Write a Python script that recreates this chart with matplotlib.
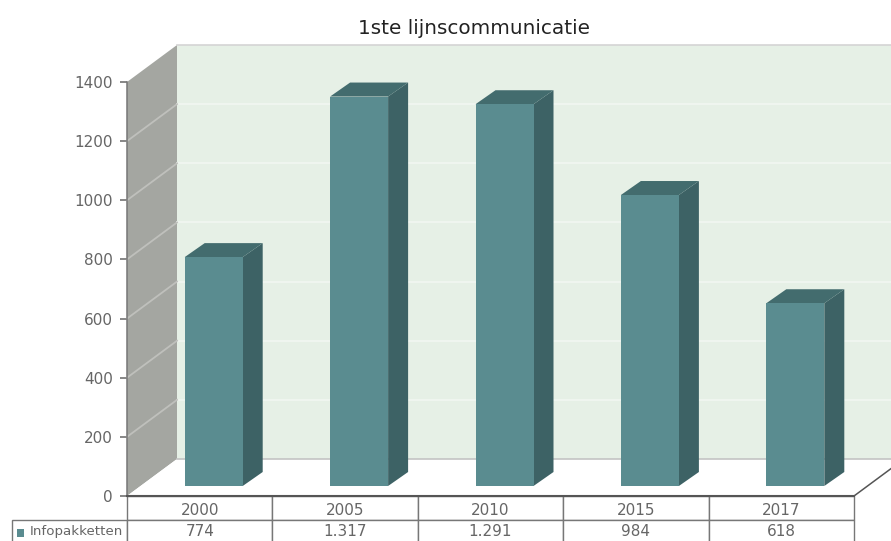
import matplotlib
matplotlib.use("Agg")
import matplotlib.pyplot as plt
from matplotlib.patches import Polygon, Rectangle

OUT = "out.png"
W, H = 891, 541

years  = ["2000", "2005", "2010", "2015", "2017"]
values = [774, 1317, 1291, 984, 618]
value_labels = ["774", "1.317", "1.291", "984", "618"]
yticks = [0, 200, 400, 600, 800, 1000, 1200, 1400]
series_name = "Infopakketten"
title = "1ste lijnscommunicatie"

COL_WALL  = "#E6F0E6"
COL_SIDE  = "#A4A6A1"
COL_FRONT = "#5A8C90"
COL_RIGHT = "#3D6265"
COL_TOP   = "#436C6E"
COL_TEXT  = "#666666"

# front plane of the fake 3d box, in pixels
X0, X1 = 127, 854
Y_TOP, Y_BOT = 82, 496

fig = plt.figure(figsize=(W / 100, H / 100), dpi=100)
ax = fig.add_axes([X0 / W, 1 - Y_BOT / H, (X1 - X0) / W, (Y_BOT - Y_TOP) / H])
ax.set_xlim(0, len(years))
ax.set_ylim(0, 1400)

ux = (X1 - X0) / len(years)          # pixels per category
uy = (Y_BOT - Y_TOP) / 1400          # pixels per value unit
DX, DY = 50 / ux, 37 / uy            # box depth in data units
BX, BY = 20 / ux, 14 / uy            # bar depth
OX, OY = 14 / ux, 10 / uy            # bar offset from the front plane
BAR_W = 58 / ux


def poly(pts, color, z=1):
    ax.add_patch(Polygon(pts, closed=True, facecolor=color, edgecolor="none",
                         clip_on=False, zorder=z))


n = len(years)
# back wall, side wall, floor
poly([(DX, DY), (n + DX, DY), (n + DX, 1400 + DY), (DX, 1400 + DY)], COL_WALL)
poly([(0, 0), (DX, DY), (DX, 1400 + DY), (0, 1400)], COL_SIDE)
poly([(0, 0), (n, 0), (n + DX, DY), (DX, DY)], "white")

for t in yticks[1:-1]:
    ax.plot([DX, n + DX], [t + DY, t + DY], color="#F1F6F1", lw=1.3, zorder=2, clip_on=False)
    ax.plot([0, DX], [t, t + DY], color="#BFC0BC", lw=1.3, zorder=2, clip_on=False)

# box outline
ax.plot([DX, n + DX], [DY, DY], color="#C4C4C4", lw=1.2, zorder=2, clip_on=False)
ax.plot([DX, n + DX], [1400 + DY, 1400 + DY], color="#D4D4D4", lw=1.2, zorder=2, clip_on=False)
ax.plot([n, n + DX], [0, DY], color="#555555", lw=1.1, zorder=2, clip_on=False)

# bars
for i, v in enumerate(values):
    xl = i + 0.5 - BAR_W / 2 + OX
    xr = xl + BAR_W
    yb = OY
    yt = OY + v
    poly([(xr, yb), (xr + BX, yb + BY), (xr + BX, yt + BY), (xr, yt)], COL_RIGHT, z=3)
    poly([(xl, yt), (xr, yt), (xr + BX, yt + BY), (xl + BX, yt + BY)], COL_TOP, z=3)
    poly([(xl, yb), (xr, yb), (xr, yt), (xl, yt)], COL_FRONT, z=4)

ax.set_yticks(yticks)
ax.set_xticks([])
ax.tick_params(axis="y", labelsize=11, labelcolor=COL_TEXT, color="#666666", length=5, width=1.1, pad=5)
ax.patch.set_visible(False)
for side in ["top", "right", "bottom"]:
    ax.spines[side].set_visible(False)
ax.spines["left"].set_color("#777777")
ax.spines["left"].set_linewidth(1.1)
ax.axhline(0, color="#555555", lw=1.5, zorder=5, clip_on=False)

fig.text(474 / W, 1 - 29 / H, title, ha="center", va="center", fontsize=14.4, color="#222222")

# data table under the axis, header text is placed by hand a little lower in its row
LABEL_L = 12
ROW_H = 24
tb_h = 2 * ROW_H
tbl = ax.table(cellText=[[""] * n, value_labels], cellLoc="center",
               colWidths=[ux / (X1 - X0)] * n,
               bbox=[0, -tb_h / (Y_BOT - Y_TOP), 1, tb_h / (Y_BOT - Y_TOP)])
tbl.auto_set_font_size(False)
tbl.set_fontsize(11)
label_cell = tbl.add_cell(1, -1, (X0 - LABEL_L) / (X1 - X0), tbl[(1, 0)].get_height(),
                          text=series_name, loc="left")
label_cell.PAD = (30 - LABEL_L) / (X0 - LABEL_L)
label_cell.set_text_props(fontsize=9.6, color=COL_TEXT)
for key, cell in tbl.get_celld().items():
    cell.set_edgecolor("#777777")
    cell.set_linewidth(1.0)
    cell.get_text().set_color(COL_TEXT)

for i, year in enumerate(years):
    ax.annotate(year, (i + 0.5, 0), xytext=(0, -10.5), textcoords="offset points",
                ha="center", va="center", fontsize=11, color=COL_TEXT, annotation_clip=False)

# legend swatch in the label cell
fig.add_artist(Rectangle((17 / W, 1 - 537 / H), 7 / W, 8 / H, transform=fig.transFigure,
                         facecolor=COL_FRONT, edgecolor="none"))

fig.savefig(OUT, dpi=100)
plt.close(fig)
